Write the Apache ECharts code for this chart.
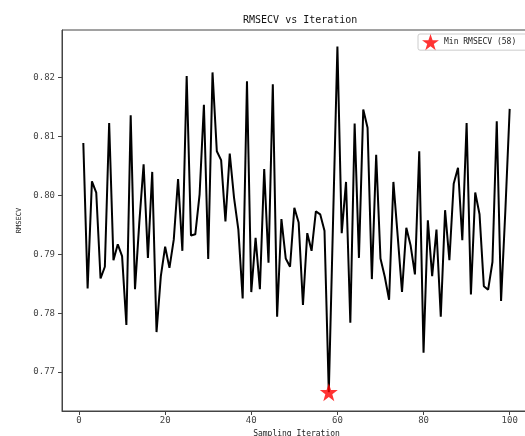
<!DOCTYPE html>
<html>
<head>
<meta charset="utf-8">
<script src="https://cdn.jsdelivr.net/npm/echarts@6/dist/echarts.min.js"></script>
<style>
  html, body { margin: 0; padding: 0; background: #fff; }
  #chart { width: 525px; height: 436px; }
</style>
</head>
<body>
<div id="chart"></div>
<script>
// RMSECV recorded at each sampling iteration (iterations 1..100)
const rmsecv = [
  0.8089, 0.7842, 0.8024, 0.8005, 0.7859, 0.7879, 0.8123, 0.7890, 0.7917, 0.7897,
  0.7780, 0.8136, 0.7841, 0.7954, 0.8053, 0.7894, 0.8040, 0.7768, 0.7863, 0.7913,
  0.7877, 0.7925, 0.8028, 0.7906, 0.8203, 0.7932, 0.7934, 0.8002, 0.8154, 0.7892,
  0.8209, 0.8075, 0.8060, 0.7956, 0.8071, 0.7996, 0.7942, 0.7825, 0.8194, 0.7836,
  0.7928, 0.7841, 0.8045, 0.7886, 0.8189, 0.7794, 0.7960, 0.7893, 0.7879, 0.7979,
  0.7954, 0.7814, 0.7936, 0.7906, 0.7973, 0.7968, 0.7940, 0.7666, 0.7960, 0.8253,
  0.7936, 0.8023, 0.7784, 0.8122, 0.7894, 0.8146, 0.8115, 0.7858, 0.8069, 0.7893,
  0.7862, 0.7823, 0.8023, 0.7931, 0.7836, 0.7945, 0.7915, 0.7866, 0.8075, 0.7733,
  0.7958, 0.7863, 0.7942, 0.7794, 0.7975, 0.7890, 0.8020, 0.8047, 0.7924, 0.8123,
  0.7832, 0.8005, 0.7968, 0.7846, 0.7840, 0.7887, 0.8126, 0.7821, 0.7975, 0.8147
];
const firstIteration = 1;

// Tick positions
const xTicks = [0, 20, 40, 60, 80, 100];
const yTicks = [0.77, 0.78, 0.79, 0.80, 0.81, 0.82];

// Axis limits
const xRange = [-3.95, 104.95];
const yRange = [0.7634, 0.8281];

// Best iteration (lowest RMSECV)
let bestIdx = 0;
rmsecv.forEach((v, i) => { if (v < rmsecv[bestIdx]) bestIdx = i; });
const bestIteration = bestIdx + firstIteration;
const bestLabel = 'Min RMSECV (' + bestIteration + ')';

const linePoints = rmsecv.map((v, i) => [i + firstIteration, v]);

const STAR = 'path://M50,0 L61.8,35.1 L98.1,35.1 L68.7,56.8 L79.4,91.5 L50,70 L20.6,91.5 L31.3,56.8 L1.9,35.1 L38.2,35.1 Z';
const FONT = 'DejaVu Sans Mono';
const axisCol = '#444';

const chart = echarts.init(document.getElementById('chart'), null, { renderer: 'canvas' });
chart.setOption({
  animation: false,
  backgroundColor: '#fff',
  title: {
    text: 'RMSECV vs Iteration',
    left: 238,
    top: 10,
    textStyle: { fontFamily: FONT, fontSize: 10, fontWeight: 'normal', color: '#111' }
  },
  legend: {
    data: [bestLabel],
    left: 418,
    top: 34,
    itemWidth: 17,
    itemHeight: 17,
    itemGap: 6,
    padding: [0, 14, 0, 4],
    borderColor: '#ccc',
    borderWidth: 1,
    borderRadius: 2,
    backgroundColor: '#fff',
    textStyle: { fontFamily: FONT, fontSize: 8, color: '#222' }
  },
  grid: {
    left: 62, top: 30, width: 469, height: 381,
    outerBoundsMode: 'none',
    containLabel: false,
    show: true,
    borderColor: axisCol,
    borderWidth: 1,
    backgroundColor: 'transparent'
  },
  xAxis: {
    type: 'value',
    min: xRange[0],
    max: xRange[1],
    name: 'Sampling Iteration',
    nameLocation: 'middle',
    nameGap: 18,
    nameTextStyle: { fontFamily: FONT, fontSize: 8, color: '#222' },
    splitLine: { show: false },
    axisLine: { show: true, onZero: false, lineStyle: { color: axisCol, width: 1 } },
    axisTick: { show: true, length: 4, lineStyle: { color: axisCol }, customValues: xTicks },
    axisLabel: { fontFamily: FONT, fontSize: 9, color: '#444', margin: 5, customValues: xTicks,
                 formatter: v => String(Math.round(v)) }
  },
  yAxis: {
    type: 'value',
    min: yRange[0],
    max: yRange[1],
    name: 'RMSECV',
    nameLocation: 'middle',
    nameGap: 29,
    nameRotate: 90,
    nameTextStyle: { fontFamily: FONT, fontSize: 7, color: '#222' },
    splitLine: { show: false },
    axisLine: { show: true, onZero: false, lineStyle: { color: axisCol, width: 1 } },
    axisTick: { show: true, length: 4, lineStyle: { color: axisCol }, customValues: yTicks },
    axisLabel: { fontFamily: FONT, fontSize: 9, color: '#444', margin: 7, customValues: yTicks,
                 formatter: v => v.toFixed(2) }
  },
  series: [
    {
      name: 'RMSECV',
      type: 'line',
      data: linePoints,
      showSymbol: false,
      symbol: 'none',
      lineStyle: { color: '#000', width: 2 },
      z: 2
    },
    {
      name: bestLabel,
      type: 'scatter',
      data: [[bestIteration, rmsecv[bestIdx]]],
      symbol: STAR,
      symbolSize: 18,
      itemStyle: { color: '#ff0000' },
      z: 3
    }
  ]
});
</script>
</body>
</html>
